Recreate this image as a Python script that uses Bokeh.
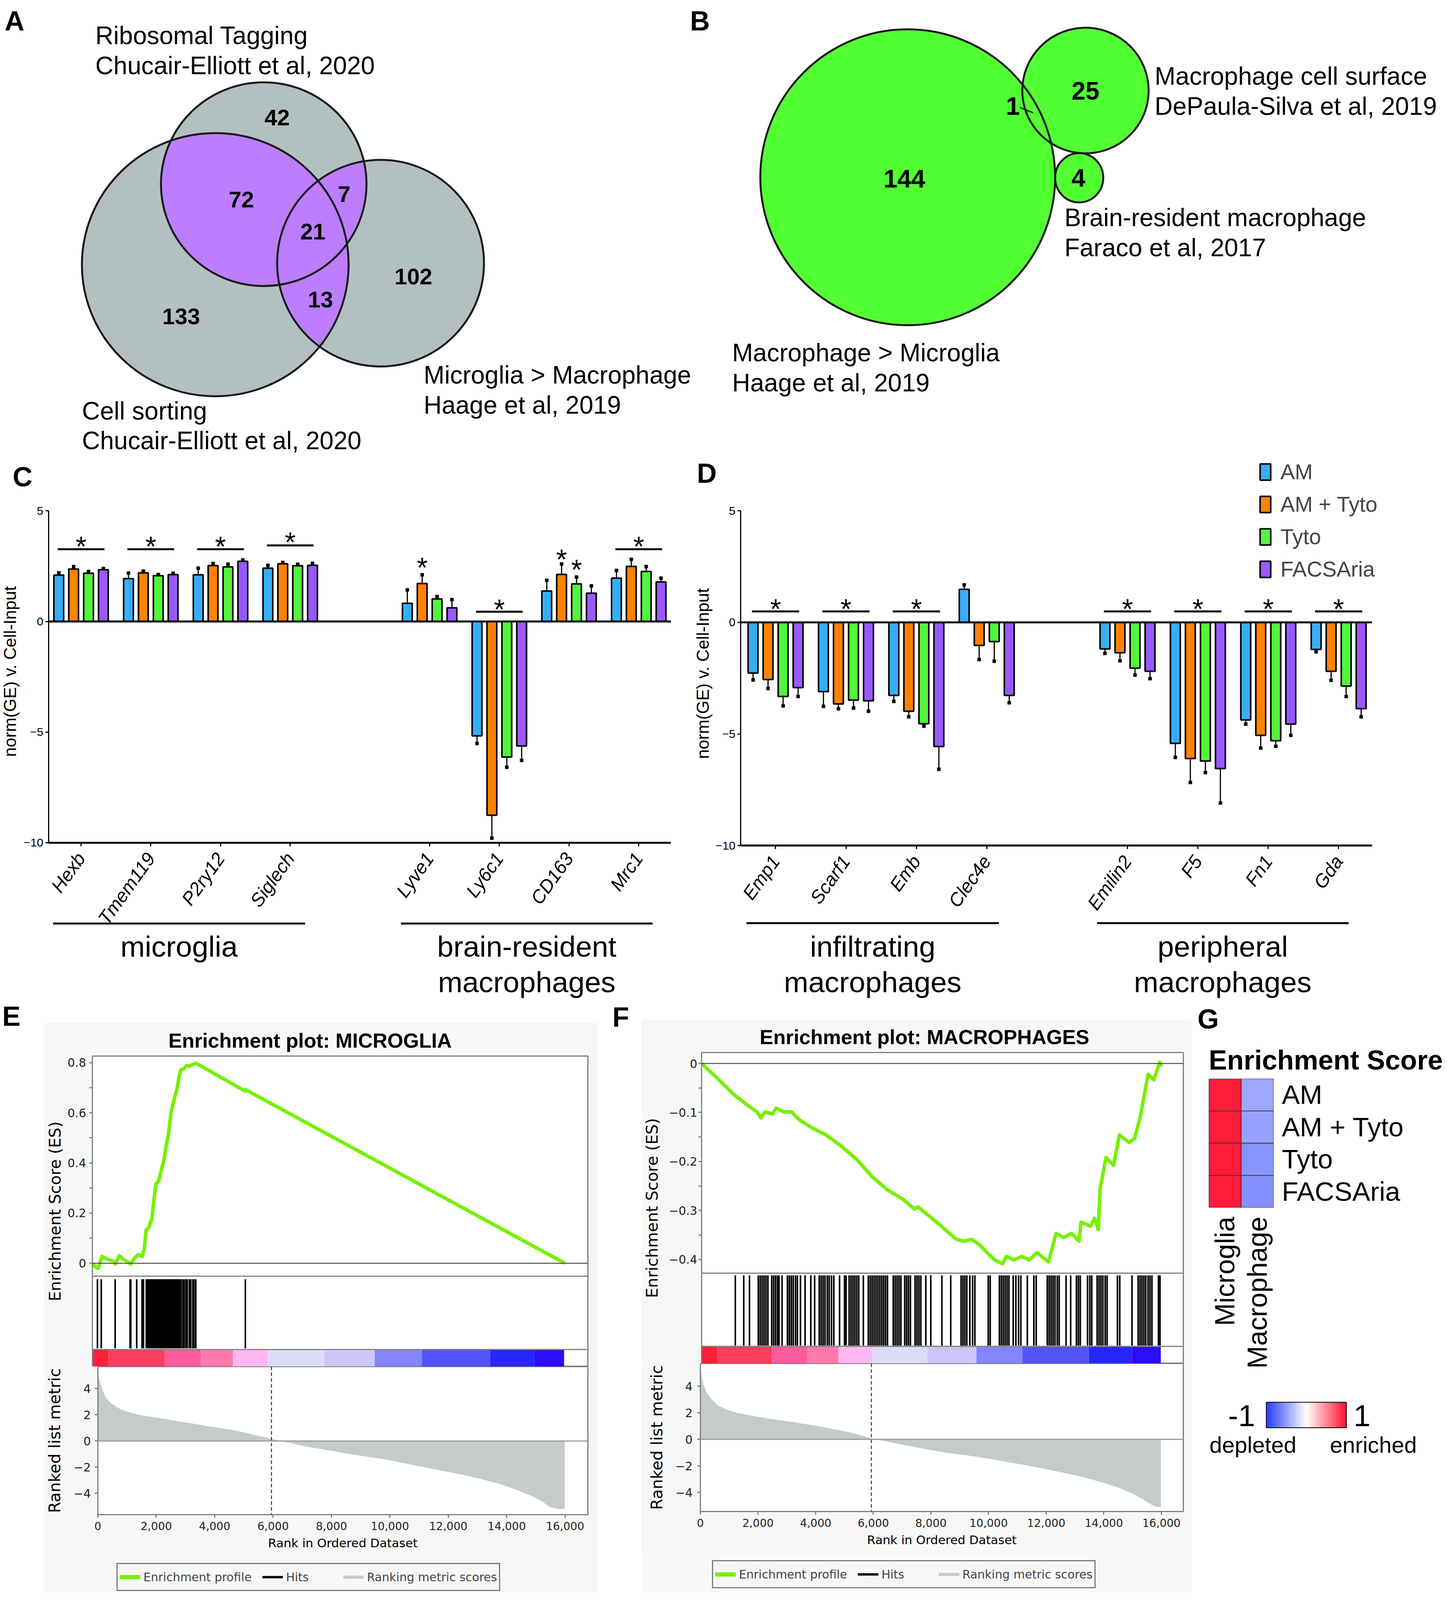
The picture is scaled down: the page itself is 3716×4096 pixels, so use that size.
import math
import numpy as np
from bokeh.plotting import figure
from bokeh.layouts import row, column
from bokeh.models import (Range1d, FactorRange, Span, Legend, LegendItem,
                          FixedTicker, NumeralTickFormatter, LinearColorMapper, ColumnDataSource)
from bokeh.core.properties import value
from bokeh.transform import transform
from bokeh.embed import file_html
from bokeh.resources import INLINE

K = 2.6
def P(v):
    return int(round(v * K))

SANS = "Liberation Sans"
DJV = "DejaVu Sans"
MID = 0.35   # em offset from alphabetic baseline to text middle

# ======================= DATA =======================
venn_a_counts = ["42", "72", "7", "21", "102", "13", "133"]
venn_a_labels = [("Ribosomal Tagging", "Chucair-Elliott et al, 2020"),
                 ("Cell sorting", "Chucair-Elliott et al, 2020"),
                 ("Microglia > Macrophage", "Haage et al, 2019")]
venn_b_counts = ["144", "1", "25", "4"]
venn_b_labels = [("Macrophage > Microglia", "Haage et al, 2019"),
                 ("Macrophage cell surface", "DePaula-Silva et al, 2019"),
                 ("Brain-resident macrophage", "Faraco et al, 2017")]

series = ["AM", "AM + Tyto", "Tyto", "FACSAria"]
slots = [0, 1, 2, 3, 5, 6, 7, 8]

genes_C = ["Hexb", "Tmem119", "P2ry12", "Siglech", "Lyve1", "Ly6c1", "CD163", "Mrc1"]
C_AM = [2.10, 1.94, 2.11, 2.41, 0.82, -5.17, 1.38, 1.96]
C_AM_err = [2.20, 2.19, 2.41, 2.54, 1.43, -5.52, 1.86, 2.31]
C_AMT = [2.37, 2.20, 2.53, 2.61, 1.72, -8.76, 2.13, 2.49]
C_AMT_err = [2.48, 2.28, 2.62, 2.67, 2.11, -9.80, 2.60, 2.81]
C_T = [2.18, 2.07, 2.47, 2.52, 1.02, -6.13, 1.70, 2.26]
C_T_err = [2.26, 2.12, 2.59, 2.59, 1.13, -6.59, 2.01, 2.48]
C_F = [2.34, 2.12, 2.72, 2.54, 0.62, -5.63, 1.28, 1.79]
C_F_err = [2.39, 2.18, 2.78, 2.63, 0.99, -6.28, 1.61, 1.96]
sig_C_slot = [0, 1, 2, 3, 6, 8]
sig_C_y = [3.27, 3.27, 3.27, 3.44, 0.44, 3.27]
star_C_x = [0, 1, 2, 3, 4.893, 6, 6.893, 7.107, 8]
star_C_y = [3.67, 3.67, 3.67, 3.87, 2.72, 0.83, 3.09, 2.64, 3.67]
groups_C = [["microglia"], ["brain-resident", "macrophages"]]

genes_D = ["Emp1", "Scarf1", "Emb", "Clec4e", "Emilin2", "F5", "Fn1", "Gda"]
D_AM = [-2.27, -3.10, -3.27, 1.48, -1.19, -5.42, -4.37, -1.21]
D_AM_err = [-2.58, -3.76, -3.54, 1.68, -1.39, -6.05, -4.56, -1.32]
D_AMT = [-2.56, -3.65, -3.98, -1.03, -1.36, -6.10, -5.06, -2.19]
D_AMT_err = [-2.96, -3.87, -4.23, -1.66, -1.72, -7.17, -5.63, -2.59]
D_T = [-3.32, -3.48, -4.54, -0.86, -2.05, -6.21, -5.30, -2.85]
D_T_err = [-3.74, -3.84, -4.65, -1.74, -2.36, -6.73, -5.55, -3.32]
D_F = [-2.92, -3.51, -5.56, -3.27, -2.19, -6.55, -4.56, -3.86]
D_F_err = [-3.32, -3.98, -6.58, -3.60, -2.52, -8.09, -5.06, -4.23]
sig_D_slot = [0, 1, 2, 5, 6, 7, 8]
sig_D_y = [0.49] * 7
star_D_x = [0, 1, 2, 5, 6, 7, 8]
star_D_y = [0.88] * 7
groups_D = [["infiltrating", "macrophages"], ["peripheral", "macrophages"]]

e_es_rank = [0, 100, 195, 325, 450, 585, 700, 780, 910, 1050, 1200, 1300, 1420, 1560, 1690, 1760, 1820,
             1900, 2016, 2080, 2146, 2250, 2341, 2420, 2497, 2580, 2667, 2760, 2862, 2930, 2992, 3090,
             3187, 3290, 3382, 3512, 5177, 5185, 16000]
e_es_val = [0, -0.015, -0.02, 0.027, 0.02, 0.012, 0.01, -0.003, 0.03, 0.015, 0.005, -0.003, 0.02, 0.035,
            0.027, 0.06, 0.133, 0.14, 0.179, 0.25, 0.315, 0.33, 0.376, 0.41, 0.467, 0.52, 0.603, 0.65,
            0.694, 0.74, 0.77, 0.775, 0.788, 0.785, 0.792, 0.797, 0.686, 0.692, 0.0]
e_hits = [170, 300, 770, 1275, 1300, 1500, 1680, 1730, 1825, 1870, 1910, 1950, 1990, 2030, 2075, 2110,
          2150, 2195, 2240, 2280, 2320, 2360, 2400, 2440, 2480, 2520, 2560, 2600, 2640, 2680, 2720, 2760,
          2800, 2840, 2880, 2920, 2960, 3000, 3060, 3110, 3170, 3210, 3280, 3330, 3400, 3440, 3500, 5180]
e_met_rank = [0, 30, 104, 180, 260, 400, 520, 750, 1040, 1500, 2081, 2700, 3382, 4000, 4683, 5300, 5945,
              6600, 7285, 8000, 8585, 9200, 9886, 10500, 11187, 11800, 12488, 13100, 13789, 14300, 14829,
              15200, 15480, 15740, 15990]
e_met_val = [5.25, 4.9, 4.29, 3.8, 3.36, 3.0, 2.78, 2.45, 2.2, 1.95, 1.77, 1.52, 1.28, 1.05, 0.81, 0.5,
             0.17, -0.17, -0.49, -0.75, -0.99, -1.2, -1.42, -1.7, -2.0, -2.28, -2.58, -2.9, -3.3, -3.7,
             -4.17, -4.6, -5.04, -5.19, -5.19]
e_zero_cross = 5945

f_es_rank = [0, 600, 1133, 1400, 1667, 1933, 2067, 2200, 2467, 2600, 2867, 3133, 3400, 3800, 4333, 4867,
             5400, 5933, 6467, 7000, 7400, 7533, 7933, 8333, 8867, 9133, 9400, 9667, 9933, 10200, 10467,
             10600, 10867, 11133, 11400, 11667, 12067, 12333, 12600, 12867, 13133, 13200, 13533, 13667,
             13800, 13867, 14067, 14333, 14533, 14867, 15067, 15267, 15533, 15733, 15933, 16000]
f_es_val = [0, -0.033, -0.064, -0.076, -0.088, -0.099, -0.111, -0.099, -0.103, -0.091, -0.099, -0.099,
            -0.115, -0.130, -0.146, -0.169, -0.196, -0.231, -0.258, -0.277, -0.297, -0.293, -0.312,
            -0.332, -0.359, -0.363, -0.359, -0.370, -0.386, -0.401, -0.409, -0.394, -0.401, -0.394,
            -0.401, -0.386, -0.405, -0.347, -0.355, -0.347, -0.363, -0.324, -0.332, -0.316, -0.339,
            -0.254, -0.192, -0.208, -0.146, -0.161, -0.153, -0.107, -0.022, -0.033, 0.002, -0.006]
f_hits = [1173, 1467, 1667, 1973, 2040, 2107, 2173, 2240, 2307, 2440, 2507, 2573, 2640, 2693, 2800, 2987,
          3053, 3120, 3187, 3267, 3333, 3440, 3600, 3800, 3933, 4093, 4160, 4227, 4293, 4373, 4440, 4520,
          4600, 4800, 4973, 5027, 5133, 5200, 5267, 5333, 5400, 5467, 5627, 5800, 5867, 5933, 6000, 6067,
          6133, 6200, 6267, 6333, 6400, 6467, 6667, 6733, 6800, 6867, 6933, 7067, 7133, 7200, 7267, 7427,
          7493, 7560, 7627, 7800, 7973, 8360, 8667, 9027, 9093, 9160, 9227, 9333, 9427, 9507, 9973, 10040,
          10360, 10427, 10493, 10560, 10627, 10693, 10840, 10933, 11027, 11107, 11333, 11560, 11640,
          12027, 12093, 12160, 12227, 12293, 12373, 12440, 12680, 12840, 13040, 13107, 13173, 13427,
          13507, 13573, 13760, 13827, 13893, 13960, 14040, 14107, 14467, 14547, 14973, 15187, 15253,
          15320, 15387, 15453, 15533, 15600, 15667, 15893, 15947]
f_met_rank = [0, 40, 93, 180, 267, 420, 600, 900, 1267, 1900, 2600, 3300, 3933, 4600, 5267, 5933, 6600,
              7267, 7900, 8600, 9300, 9933, 10600, 11267, 11900, 12600, 13300, 13933, 14500, 15000, 15350,
              15667, 15850, 15980]
f_met_val = [5.34, 4.8, 4.2, 3.7, 3.34, 2.95, 2.57, 2.25, 2.0, 1.73, 1.49, 1.27, 1.06, 0.78, 0.49, 0.06,
             -0.22, -0.51, -0.76, -1.03, -1.22, -1.43, -1.68, -1.94, -2.2, -2.51, -2.85, -3.23, -3.62,
             -4.09, -4.5, -4.94, -5.09, -5.09]
f_zero_cross = 5933

cb_edges = [0, 540, 2445, 3680, 4760, 5940, 7855, 9560, 11160, 13470, 14965, 15975]
cb_colors = ["#fe1f37", "#ff3d5e", "#ff5c9c", "#ff7aab", "#ffb8f1", "#dcdcf6", "#cdc6f6",
             "#8585fb", "#5252fd", "#2626fe", "#2b0cfc"]

hm_cols = ["Microglia", "Macrophage"]
hm_rows = ["AM", "AM + Tyto", "Tyto", "FACSAria"]
hm_microglia = [0.95, 0.95, 0.95, 0.95]
hm_macrophage = [-0.45, -0.48, -0.55, -0.57]

# ======================= STYLE =======================
BAR_COLORS = ["#36aef6", "#ff8205", "#52f53c", "#9a59ff"]
OFFS = [-0.32, -0.107, 0.107, 0.32]
BAR_W = 0.14
VENN_GRAY = "#b3c0c0"
VENN_PURPLE = "#bd7dff"
VENN_GREEN = "#52ff33"
ES_GREEN = "#78f000"
MET_GRAY = "#c5caca"
GBG = "#f7f7f7"
AX_GRAY = "#7f7f7f"
ROW1, ROW2 = 449, 986


def canvas(x0, x1, y0, y1, bg="white"):
    p = figure(width=P(x1) - P(x0), height=P(y1) - P(y0),
               x_range=Range1d(x0, x1), y_range=Range1d(-y1, -y0),
               x_axis_location=None, y_axis_location=None,
               output_backend="svg", toolbar_location=None, frame_align=False,
               min_border=0, outline_line_color=None,
               background_fill_color=bg, border_fill_color=bg)
    p.xgrid.visible = False
    p.ygrid.visible = False
    return p


def ctext(p, x, y, s, size, style="normal", align="left", baseline="alphabetic", font=SANS, angle=0.0):
    # y given as the alphabetic baseline (display px); drawn with a middle anchor
    if baseline == "alphabetic":
        y = y - MID * size / K
    p.text(x=[x], y=[-y], text=[s], angle=angle, text_font=value(font),
           text_font_size=value(f"{size}px"), text_font_style=style,
           text_align=align, text_baseline="middle", text_color="black")


def ellipse_poly(cx, cy, w, h, n=240):
    t = np.arange(n) * (2 * np.pi / n)
    return list(zip(cx + w / 2 * np.cos(t), cy + h / 2 * np.sin(t)))


def clip_poly(subject, clip):
    def inside(q, a, b):
        return (b[0] - a[0]) * (q[1] - a[1]) - (b[1] - a[1]) * (q[0] - a[0]) >= 0

    def inter(p1, p2, a, b):
        x1, y1 = p1; x2, y2 = p2; x3, y3 = a; x4, y4 = b
        den = (x1 - x2) * (y3 - y4) - (y1 - y2) * (x3 - x4)
        t = ((x1 - x3) * (y3 - y4) - (y1 - y3) * (x3 - x4)) / den
        return (x1 + t * (x2 - x1), y1 + t * (y2 - y1))

    out = subject
    for i in range(len(clip)):
        a, b = clip[i], clip[(i + 1) % len(clip)]
        inp, out = out, []
        if not inp:
            break
        s = inp[-1]
        for e in inp:
            if inside(e, a, b):
                if not inside(s, a, b):
                    out.append(inter(s, e, a, b))
                out.append(e)
            elif inside(s, a, b):
                out.append(inter(s, e, a, b))
            s = e
    return out


# ======================= PANEL A =======================
pA = canvas(0, 700, 0, ROW1)
ellA = [(259.4, 181.2, 202.3, 200.6), (211.7, 260.5, 262.5, 259.2), (374.4, 259.0, 203.6, 203.5)]
for cx, cy, w, h in ellA:
    pA.ellipse(x=cx, y=-cy, width=w, height=h, fill_color=VENN_GRAY, line_color=None)
polys = [ellipse_poly(*e) for e in ellA]
for i, j in [(0, 1), (0, 2), (1, 2)]:
    pts = clip_poly(polys[i], polys[j])
    pA.patch([q[0] for q in pts], [-q[1] for q in pts], fill_color=VENN_PURPLE, line_color=None)
for cx, cy, w, h in ellA:
    pA.ellipse(x=cx, y=-cy, width=w, height=h, fill_color=None, line_color="#1a1a1a", line_width=5)
posA = [(272.6, 115.8), (237.4, 196.6), (338.6, 190.9), (307.8, 228.0), (406.7, 272.4), (315.3, 295.0), (178.1, 311.5)]
for (x, y), s in zip(posA, venn_a_counts):
    ctext(pA, x, y, s, 58, style="bold", align="center", baseline="middle")
labposA = [(93.7, 43.4), (80.5, 413.0), (416.8, 377.8)]
for (x, y), (l1, l2) in zip(labposA, venn_a_labels):
    ctext(pA, x, y, l1, 64)
    ctext(pA, x, y + 29.5, l2, 64)
ctext(pA, 4.4, 30, "A", 70, style="bold")
ctext(pA, 679, 30, "B", 70, style="bold")

# ======================= PANEL B =======================
pB = canvas(700, 1422, 0, ROW1)
ellB = [(893.3, 174.4, 290.2, 291.5), (1068.3, 89.0, 124.4, 123.7), (1062.1, 174.9, 47.4, 48.6)]
for cx, cy, w, h in ellB:
    pB.ellipse(x=cx, y=-cy, width=w, height=h, fill_color=VENN_GREEN, line_color=None)
for cx, cy, w, h in ellB:
    pB.ellipse(x=cx, y=-cy, width=w, height=h, fill_color=None, line_color="#1a1a1a", line_width=5)
posB = [(890.0, 175.8), (996.9, 104.3), (1068.3, 89.2), (1061.4, 174.9)]
for (x, y), s in zip(posB, venn_b_counts):
    ctext(pB, x, y, s, 64, style="bold", align="center", baseline="middle")
pB.segment(x0=[1003.8], y0=[-105.7], x1=[1016.7], y1=[-110.9], line_color="#1a1a1a", line_width=3)
labposB = [(720.5, 355.8), (1136.4, 83.5), (1047.6, 222.9)]
for (x, y), (l1, l2) in zip(labposB, venn_b_labels):
    ctext(pB, x, y, l1, 64)
    ctext(pB, x, y + 29.5, l2, 64)


# ======================= PANELS C / D =======================
def bar_panel(cfg, genes, vals, errs, sig_slot, sig_y, star_x, star_y, groups, letter, with_legend=False):
    fx0, fx1 = cfg["fx0"], cfg["fx1"]
    fy0, fy1 = ROW1, ROW2
    fl, fr, ft, fb = cfg["fl"], cfg["fr"], cfg["ft"], cfg["fb"]
    t0, sl = cfg["tick0"], cfg["slot"]
    ppu = (fb - ft) / 15.0
    X = lambda d: (d - t0) / sl
    Y = lambda d: 5 - (d - ft) / ppu
    p = figure(width=P(fx1) - P(fx0), height=P(fy1) - P(fy0),
               x_range=Range1d(X(fx0), X(fx1)), y_range=Range1d(Y(fy1), Y(fy0)),
               output_backend="svg", toolbar_location=None, frame_align=False, min_border=0,
               outline_line_color=None, background_fill_color="white", border_fill_color="white")
    p.xgrid.visible = False
    p.ygrid.visible = False
    rends = []
    for k in range(4):
        xs = [s + OFFS[k] for s in slots]
        p.segment(x0=xs, y0=vals[k], x1=xs, y1=errs[k], line_color="black", line_width=3)
        p.scatter(x=xs, y=errs[k], marker="square", size=8, color="black")
        r = p.vbar(x=xs, top=vals[k], bottom=0, width=BAR_W, fill_color=BAR_COLORS[k],
                   line_color="black", line_width=4)
        rends.append(r)
    p.segment(x0=[X(fl)], x1=[X(fr)], y0=[0], y1=[0], line_color="black", line_width=5)
    p.segment(x0=[s - 0.335 for s in sig_slot], x1=[s + 0.335 for s in sig_slot], y0=sig_y, y1=sig_y,
              line_color="black", line_width=5)
    star_size = 72
    off = 0.225 * star_size / K / ppu
    p.text(x=star_x, y=[v - off for v in star_y], text=["*"] * len(star_x), text_font=value(SANS),
           text_font_size=value(f"{star_size}px"), text_align="center", text_baseline="middle",
           text_color="black")
    yax = p.yaxis[0]
    yax.fixed_location = X(fl)
    yax.bounds = (-10, 5)
    yax.ticker = FixedTicker(ticks=[-10, -5, 0, 5])
    yax.major_label_text_font = SANS
    yax.major_label_text_font_size = "30px"
    yax.major_label_text_color = "black"
    yax.major_label_standoff = 5
    yax.axis_line_width = 3
    yax.major_tick_line_width = 3
    yax.major_tick_out = 8
    yax.major_tick_in = 0
    yax.minor_tick_line_color = None
    xax = p.xaxis[0]
    xax.fixed_location = -10
    xax.bounds = (X(fl), X(fr))
    xax.ticker = FixedTicker(ticks=slots)
    xax.major_label_overrides = {s: g for s, g in zip(slots, genes)}
    xax.major_label_orientation = 0.95
    xax.major_label_text_font = SANS
    xax.major_label_text_font_style = "italic"
    xax.major_label_text_font_size = "48px"
    xax.major_label_text_color = "black"
    xax.major_label_standoff = 22
    xax.axis_line_width = 5
    xax.major_tick_line_width = 3
    xax.major_tick_out = 9
    xax.major_tick_in = 0
    xax.minor_tick_line_color = None
    p.text(x=[X(cfg["ylab_x"])], y=[Y(cfg["ylab_y"])], text=["norm(GE) v. Cell-Input"], angle=math.pi / 2,
           text_font=value(SANS), text_font_size=value("44px"), text_align="center",
           text_baseline="middle", text_color="black")
    p.text(x=[X(cfg["letter_x"])], y=[Y(cfg["letter_y"] - MID * 70 / K)], text=[letter],
           text_font=value(SANS), text_font_size=value("70px"), text_font_style="bold",
           text_baseline="middle", text_color="black")
    for (gx0, gx1), lines, cx in zip(cfg["group_lines"], groups, cfg["group_cx"]):
        p.segment(x0=[X(gx0)], x1=[X(gx1)], y0=[Y(cfg["group_y"])], y1=[Y(cfg["group_y"])],
                  line_color="black", line_width=5)
        for li, t in enumerate(lines):
            p.text(x=[X(cx)], y=[Y(941.7 + 35.0 * li - MID * 75 / K)], text=[t], text_font=value(SANS),
                   text_font_size=value("75px"), text_align="center", text_baseline="middle",
                   text_color="black")
    if with_legend:
        item_h = 62
        spacing = 19
        h = 4 * item_h + 3 * spacing
        lx = P(cfg["leg_x"]) - P(fx0)
        ly = P(fy1) - P(cfg["leg_top"]) - h
        leg = Legend(items=[LegendItem(label=s, renderers=[r]) for s, r in zip(series, rends)],
                     location=(lx, ly), orientation="vertical", glyph_width=34, glyph_height=52,
                     label_height=item_h, label_standoff=22, spacing=spacing, padding=0, margin=0,
                     label_text_font=SANS, label_text_font_size="55px", border_line_color=None,
                     background_fill_alpha=0)
        p.add_layout(leg)
    return p


cfgC = dict(fx0=0, fx1=676, fl=47.5, fr=660, ft=503.0, fb=829.4, tick0=79.6, slot=68.6,
            ylab_x=9.7, ylab_y=661, letter_x=12.3, letter_y=479, group_y=909,
            group_lines=[(52, 300), (394.4, 642)], group_cx=[176.0, 518.2])
cfgD = dict(fx0=676, fx1=1422, fl=728.6, fr=1350.3, ft=502.9, fb=832.3, tick0=763.1, slot=69.3,
            ylab_x=691.3, ylab_y=663, letter_x=685.6, letter_y=475.6, group_y=908.6,
            group_lines=[(734.4, 983), (1079.6, 1327.3)], group_cx=[858.7, 1203.4],
            leg_x=1238.9, leg_top=455.5)
pC = bar_panel(cfgC, genes_C, [C_AM, C_AMT, C_T, C_F], [C_AM_err, C_AMT_err, C_T_err, C_F_err],
               sig_C_slot, sig_C_y, star_C_x, star_C_y, groups_C, "C")
pD = bar_panel(cfgD, genes_D, [D_AM, D_AMT, D_T, D_F], [D_AM_err, D_AMT_err, D_T_err, D_F_err],
               sig_D_slot, sig_D_y, star_D_x, star_D_y, groups_D, "D", with_legend=True)


# ======================= PANELS E / F =======================
def style_left(ax, label, std, lab_std, fsize=30):
    ax.axis_label = label
    ax.axis_label_text_font = DJV
    ax.axis_label_text_font_size = "41px"
    ax.axis_label_text_font_style = "normal"
    ax.axis_label_text_color = "black"
    ax.axis_label_standoff = lab_std
    ax.major_label_text_font = DJV
    ax.major_label_text_font_size = f"{fsize}px"
    ax.major_label_text_color = "#222222"
    ax.major_label_standoff = std
    ax.axis_line_color = AX_GRAY
    ax.axis_line_width = 3
    ax.major_tick_line_color = AX_GRAY
    ax.major_tick_line_width = 3
    ax.major_tick_out = 8
    ax.major_tick_in = 0
    ax.minor_tick_line_color = AX_GRAY
    ax.minor_tick_line_width = 3
    ax.minor_tick_out = 8
    ax.minor_tick_in = 0


MET_END = 1534


def gsea_panel(cfg, title, title_em, es_rank, es_val, hits, met_rank, met_val, zero_cross,
               es_ticks, es_minor):
    x0, x1 = cfg["x0"], cfg["x1"]
    W = P(x1) - P(x0)
    fl, fr = cfg["fl"], cfg["fr"]
    xr = Range1d(0, cfg["x_end"])
    esv = lambda d: (cfg["es_zero"] - d) / cfg["es_ppu"]
    mv = lambda d: (cfg["met_zero"] - d) / cfg["met_ppu"]

    top = canvas(x0, x1, ROW2, cfg["gray_top"])

    pes = figure(width=W, height=P(cfg["cbar_bot"]) - P(cfg["gray_top"]), x_range=xr,
                 y_range=Range1d(esv(cfg["cbar_bot"]), esv(cfg["es_top"])),
                 x_axis_location=None, y_axis_location="left",
                 output_backend="svg", toolbar_location=None, frame_align=False,
                 min_border_left=P(fl) - P(x0), min_border_right=P(x1) - P(fr),
                 min_border_top=P(cfg["es_top"]) - P(cfg["gray_top"]), min_border_bottom=0,
                 background_fill_color="white", border_fill_color=GBG,
                 outline_line_color=AX_GRAY, outline_line_width=3, title=title)
    pes.xgrid.visible = False
    pes.ygrid.visible = False
    fsz = 52
    pes.title.text_font = SANS
    pes.title.text_font_size = f"{fsz}px"
    pes.title.text_font_style = "bold"
    pes.title.text_color = "black"
    pes.title.align = "left"
    pes.title.vertical_align = "middle"
    pes.title.standoff = 20
    pes.title.offset = (cfg["title_cx"] - fl) * K - title_em * fsz / 2
    pes.quad(left=cb_edges[:-1], right=cb_edges[1:], bottom=esv(cfg["cbar_bot"]), top=esv(cfg["cbar_top"]),
             fill_color=cb_colors, line_color=None)
    pes.add_layout(Span(location=esv(cfg["div_y"]), dimension="width", line_color=AX_GRAY, line_width=3))
    pes.add_layout(Span(location=esv(cfg["cbar_top"]), dimension="width", line_color=AX_GRAY, line_width=3))
    pes.add_layout(Span(location=0, dimension="width", line_color="#4d4d4d", line_width=2.5))
    pes.segment(x0=hits, x1=hits, y0=esv(cfg["hits_bot"]), y1=esv(cfg["hits_top"]),
                line_color="black", line_width=4)
    pes.line(es_rank, es_val, line_color=ES_GREEN, line_width=9, line_join="round")
    ax = pes.yaxis[0]
    ax.ticker = FixedTicker(ticks=es_ticks, minor_ticks=es_minor)
    ax.major_label_overrides = {0: "0"}
    style_left(ax, "Enrichment Score (ES)", cfg["es_std"], cfg["es_lab_std"])

    pm = figure(width=W, height=P(MET_END) - P(cfg["cbar_bot"]), x_range=xr,
                y_range=Range1d(mv(cfg["met_bot"]), mv(cfg["cbar_bot"])),
                output_backend="svg", toolbar_location=None, frame_align=False,
                min_border_left=P(fl) - P(x0), min_border_right=P(x1) - P(fr),
                min_border_top=0, min_border_bottom=P(MET_END) - P(cfg["met_bot"]),
                background_fill_color="white", border_fill_color=GBG,
                outline_line_color=AX_GRAY, outline_line_width=3)
    pm.xgrid.visible = False
    pm.ygrid.visible = False
    pm.varea(x=met_rank, y1=0, y2=met_val, fill_color=MET_GRAY)
    pm.add_layout(Span(location=0, dimension="width", line_color="#9a9a9a", line_width=3))
    pm.add_layout(Span(location=zero_cross, dimension="height", line_color="#333333", line_width=2.5,
                       line_dash="9 6"))
    ay = pm.yaxis[0]
    ay.ticker = FixedTicker(ticks=[-4, -2, 0, 2, 4])
    style_left(ay, "Ranked list metric", cfg["met_std"], cfg["met_lab_std"])
    bx = pm.xaxis[0]
    bx.ticker = FixedTicker(ticks=list(range(0, 16001, 2000)))
    bx.formatter = NumeralTickFormatter(format="0,0")
    bx.axis_label = "Rank in Ordered Dataset"
    bx.axis_label_text_font = DJV
    bx.axis_label_text_font_size = "31px"
    bx.axis_label_text_font_style = "normal"
    bx.axis_label_text_color = "black"
    bx.axis_label_standoff = 12
    bx.major_label_text_font = DJV
    bx.major_label_text_font_size = "28px"
    bx.major_label_text_color = "#222222"
    bx.major_label_standoff = 10
    bx.axis_line_color = AX_GRAY
    bx.axis_line_width = 3
    bx.major_tick_line_color = AX_GRAY
    bx.major_tick_line_width = 3
    bx.major_tick_out = 8
    bx.major_tick_in = 0
    bx.minor_tick_line_color = None

    lg = canvas(x0, x1, MET_END, 1568, bg=GBG)
    kx = [x0 - 20, x0 - 10]
    ky = [-1550, -1550]
    r1 = lg.line(x=kx, y=ky, line_color=ES_GREEN, line_width=11)
    r2 = lg.line(x=kx, y=ky, line_color="black", line_width=6)
    r3 = lg.line(x=kx, y=ky, line_color=MET_GRAY, line_width=8)
    lh = 66
    lx = P(cfg["legend_left"]) - P(x0)
    ly = P(1568) - P(cfg["legend_top"]) - lh
    leg = Legend(items=[LegendItem(label="Enrichment profile", renderers=[r1]),
                        LegendItem(label="Hits", renderers=[r2]),
                        LegendItem(label="Ranking metric scores", renderers=[r3])],
                 location=(lx, ly), orientation="horizontal", glyph_width=53, glyph_height=56,
                 label_height=56, label_width=119, label_standoff=8, spacing=27, padding=5, margin=0,
                 label_text_font=DJV, label_text_font_size="30px", border_line_color="black",
                 border_line_width=3, background_fill_color=GBG)
    lg.add_layout(leg)
    return column(top, pes, pm, lg, spacing=0)


cfgE = dict(x0=43.5, x1=588, gray_top=1007, fl=90.7, fr=578.3, es_top=1039.7, es_zero=1243.6, es_ppu=246.9,
            div_y=1256.3, hits_top=1259.3, hits_bot=1327.3, cbar_top=1328.5, cbar_bot=1345.3, met_bot=1491.2,
            met_zero=1418.6, met_ppu=12.9, x_end=16780, title_cx=305, legend_left=114.5, legend_top=1541.3,
            es_std=8, es_lab_std=5, met_std=10, met_lab_std=21)
cfgF = dict(x0=631, x1=1173, gray_top=1004, fl=689.4, fr=1164.5, es_top=1036, es_zero=1046.8, es_ppu=482.5,
            div_y=1253.3, hits_top=1255.5, hits_bot=1324.7, cbar_top=1325.5, cbar_bot=1342.3, met_bot=1488,
            met_zero=1417, met_ppu=13.07, x_end=16760, title_cx=908.6, legend_left=700.7, legend_top=1538.6,
            es_std=3, es_lab_std=16, met_std=12, met_lab_std=20)

colE = gsea_panel(cfgE, "Enrichment plot: MICROGLIA", 13.95, e_es_rank, e_es_val, e_hits,
                  e_met_rank, e_met_val, e_zero_cross, [0, 0.2, 0.4, 0.6, 0.8], [0.1, 0.3, 0.5, 0.7])
colF = gsea_panel(cfgF, "Enrichment plot: MACROPHAGES", 16.2, f_es_rank, f_es_val, f_hits,
                  f_met_rank, f_met_val, f_zero_cross, [0, -0.1, -0.2, -0.3, -0.4],
                  [-0.05, -0.15, -0.25, -0.35])

pEl = canvas(0, 43.5, ROW2, 1568)
ctext(pEl, 2, 1010, "E", 70, style="bold")
pFl = canvas(588, 631, ROW2, 1568)
ctext(pFl, 602.5, 1010.5, "F", 70, style="bold")

# ======================= PANEL G =======================
def mix(c1, c2, t):
    return "#%02x%02x%02x" % tuple(int(round(a + (b - a) * t)) for a, b in zip(c1, c2))

blue, white, red = (40, 60, 255), (255, 255, 255), (255, 16, 48)
palette = [mix(blue, white, i / 127) for i in range(128)] + [mix(white, red, i / 127) for i in range(128)]
mapper = LinearColorMapper(palette=palette, low=-1, high=1)

hm_src = ColumnDataSource(dict(
    col=[hm_cols[0]] * 4 + [hm_cols[1]] * 4,
    row=hm_rows + hm_rows,
    v=hm_microglia + hm_macrophage))

G_TOP = 1022
pGt = canvas(1173, 1422, ROW2, G_TOP)
ctext(pGt, 1178.5, 1012.5, "G", 70, style="bold")

pG = figure(width=P(1422) - P(1173), height=P(1360) - P(G_TOP),
            x_range=FactorRange(factors=hm_cols), y_range=FactorRange(factors=hm_rows[::-1]),
            x_axis_location="below", y_axis_location="right",
            output_backend="svg", toolbar_location=None, frame_align=False,
            min_border_left=P(1189.6) - P(1173), min_border_right=P(1422) - P(1253.4),
            min_border_top=P(1062) - P(G_TOP), min_border_bottom=P(1360) - P(1189),
            outline_line_color=None, title="Enrichment Score")
pG.xgrid.visible = False
pG.ygrid.visible = False
pG.rect(x="col", y="row", width=1, height=1, source=hm_src, fill_color=transform("v", mapper),
        line_color="#3a3a3a", line_width=2)
pG.title.text_font = SANS
pG.title.text_font_size = "70px"
pG.title.text_font_style = "bold"
pG.title.text_color = "black"
pG.title.align = "left"
pG.title.offset = 0
pG.title.standoff = 18
for ax in (pG.xaxis[0], pG.yaxis[0]):
    ax.axis_line_color = None
    ax.major_tick_line_color = None
    ax.minor_tick_line_color = None
    ax.major_label_text_font = SANS
    ax.major_label_text_color = "black"
pG.yaxis[0].major_label_text_font_size = "69px"
pG.yaxis[0].major_label_standoff = 15
pG.xaxis[0].major_label_text_font_size = "70px"
pG.xaxis[0].major_label_orientation = math.pi / 2
pG.xaxis[0].major_label_standoff = 17

pGc = canvas(1173, 1422, 1360, 1568)
grad = np.linspace(-1, 1, 256).reshape(1, 256)
pGc.image(image=[grad], x=1246.2, y=-1405.6, dw=78.9, dh=25.1, color_mapper=mapper)
pGc.quad(left=[1246.2], right=[1325.1], bottom=[-1405.6], top=[-1380.5], fill_color=None,
         line_color="black", line_width=2)
ctext(pGc, 1221.9, 1404.2, "-1", 78, align="center")
ctext(pGc, 1340.5, 1404.2, "1", 78, align="center")
ctext(pGc, 1233.0, 1430.0, "depleted", 58, align="center")
ctext(pGc, 1351.7, 1430.0, "enriched", 58, align="center")

colG = column(pGt, pG, pGc, spacing=0)

layout = column(row(pA, pB, spacing=0),
                row(pC, pD, spacing=0),
                row(pEl, colE, pFl, colF, colG, spacing=0),
                spacing=0)

open("out.html", "w").write(file_html(layout, INLINE, title="Figure"))
